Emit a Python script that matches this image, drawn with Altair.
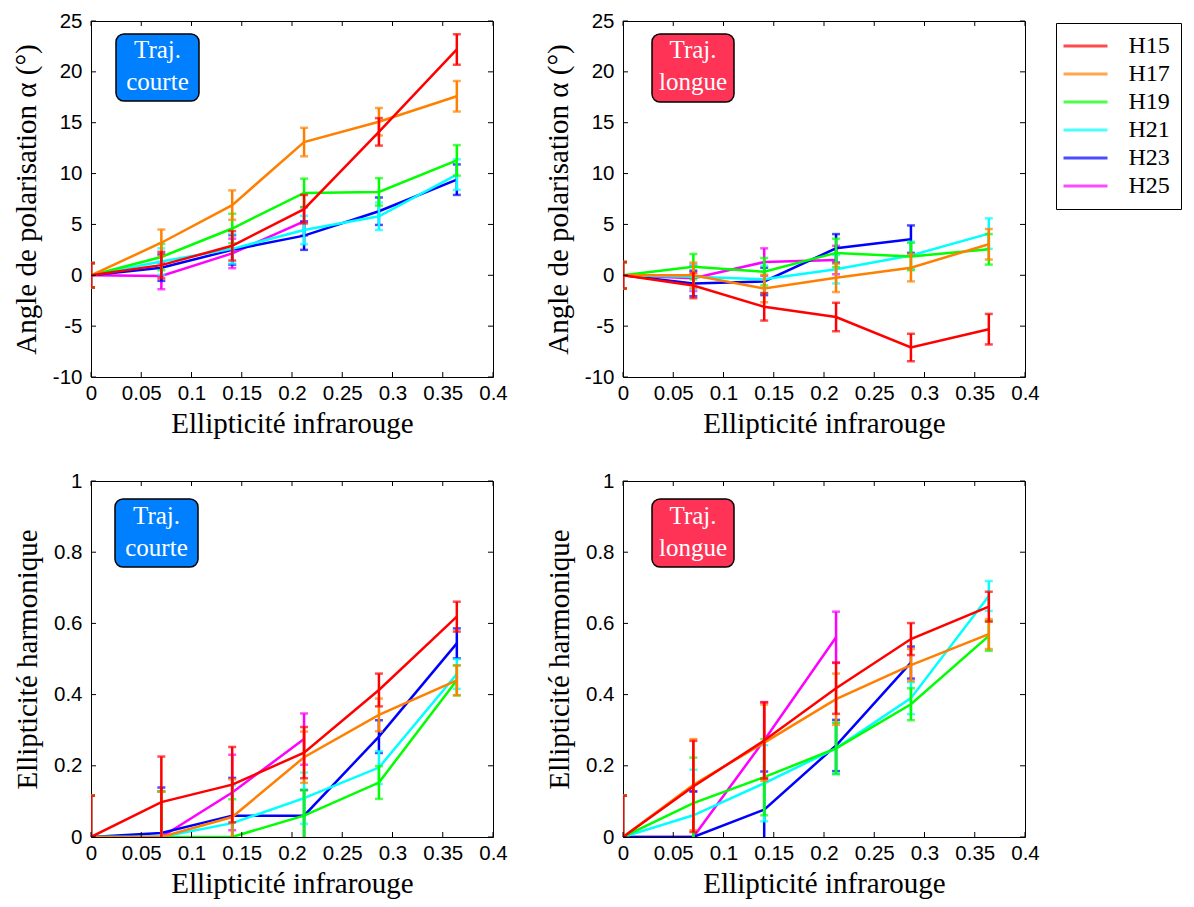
import altair as alt
import pandas as pd

# ---------------- data ----------------
series = ["H15", "H17", "H19", "H21", "H23", "H25"]
colors = ["#FF0000", "#FF8000", "#00FF00", "#00FFFF", "#0000FF", "#FF00FF"]
ellip_ir = [0, 0.07, 0.1405, 0.212, 0.2865, 0.364]

x_ticks = [0, 0.05, 0.1, 0.15, 0.2, 0.25, 0.3, 0.35, 0.4]
alpha_ticks = [-10, -5, 0, 5, 10, 15, 20, 25]
ellip_ticks = [0, 0.2, 0.4, 0.6, 0.8, 1]

# polarisation angle, short trajectory
alpha_courte = {
    "H15": [0, 1.0, 2.9, 6.5, 14.1, 22.2],
    "H17": [0, 3.2, 6.9, 13.1, 15.1, 17.6],
    "H19": [0, 1.8, 4.6, 8.1, 8.2, 11.3],
    "H21": [0, 1.35, 2.6, 4.45, 5.8, 9.9],
    "H23": [0, 0.75, 2.5, 3.9, 6.3, 9.4],
    "H25": [0, -0.07, 2.15, 5.3, None, None],
}
alpha_courte_err = [1.2, 1.3, 1.45, 1.4, 1.35, 1.5]

# polarisation angle, long trajectory
alpha_longue = {
    "H15": [0, -1.0, -3.1, -4.1, -7.1, -5.3],
    "H17": [0, 0.0, -1.3, -0.25, 0.75, 3.05],
    "H19": [0, 0.85, 0.35, 2.2, 1.85, 2.55],
    "H21": [0, -0.15, -0.4, 0.6, 1.95, 4.1],
    "H23": [0, -0.8, -0.6, 2.65, 3.55, None],
    "H25": [0, -0.3, 1.3, 1.5, None, None],
}
alpha_longue_err = [1.3, 1.25, 1.35, 1.4, 1.35, 1.5]

# harmonic ellipticity, short trajectory
ellh_courte = {
    "H15": [0, 0.098, 0.147, 0.237, 0.413, 0.619],
    "H17": [0, 0.0, 0.056, 0.224, 0.343, 0.44],
    "H19": [0, 0.0, 0.0, 0.06, 0.153, 0.44],
    "H21": [0, 0.0, 0.039, 0.109, 0.195, 0.458],
    "H23": [0, 0.011, 0.06, 0.06, 0.282, 0.544],
    "H25": [0, 0.0, 0.125, 0.275, None, None],
}
ellh_courte_err = [0.116, 0.128, 0.106, 0.072, 0.046, 0.042]

# harmonic ellipticity, long trajectory
ellh_longue = {
    "H15": [0, 0.142, 0.271, 0.418, 0.556, 0.647],
    "H17": [0, 0.147, 0.265, 0.387, 0.483, 0.57],
    "H19": [0, 0.095, 0.168, 0.249, 0.373, 0.565],
    "H21": [0, 0.061, 0.151, 0.249, 0.39, 0.677],
    "H23": [0, 0.0, 0.077, 0.257, 0.49, None],
    "H25": [0, 0.0, 0.272, 0.561, None, None],
}
ellh_longue_err = [0.116, 0.128, 0.107, 0.072, 0.045, 0.042]

SERIF = "Liberation Serif"
SANS = "Liberation Sans"
PW, PH = 402, 356
TICK = 5


def make_df(values, errs):
    rows = []
    for s in series:
        for i, v in enumerate(values[s]):
            if v is None:
                continue
            rows.append({"serie": s, "x": ellip_ir[i], "y": v,
                         "lo": v - errs[i], "hi": v + errs[i]})
    return pd.DataFrame(rows)


legend = alt.Legend(
    title=None, orient="none", legendX=965, legendY=2,
    strokeColor="black", fillColor="white", padding=11, cornerRadius=0,
    labelFont=SERIF, labelFontSize=24, labelColor="black", labelOffset=31,
    symbolType="M-3,0H3", symbolSize=215, symbolStrokeWidth=3,
    symbolOffset=6.5, rowPadding=4, symbolFillColor="transparent",
)


def panel(values, errs, ydom, yticks, ytitle, label, box_fill, bx, by, tx, ty):
    df = make_df(values, errs)
    xs = alt.Scale(domain=[0, 0.4], nice=False, zero=False)
    ys = alt.Scale(domain=ydom, nice=False, zero=False)
    color = alt.Color("serie:N", scale=alt.Scale(domain=series, range=colors),
                      legend=legend)
    lab = "'' + datum.value"
    main_x = alt.Axis(values=x_ticks, title="Ellipticité infrarouge", ticks=False,
                      domain=False, grid=False, labelExpr=lab, labelPadding=6,
                      titlePadding=6, labelFlush=False, labelOverlap=False)
    main_y = alt.Axis(values=yticks, title=ytitle, ticks=False, domain=False,
                      grid=False, labelExpr=lab, labelPadding=9, titlePadding=11,
                      labelFlush=False, labelOverlap=False)
    base = alt.Chart(df)
    layers = [
        base.mark_point(opacity=0).encode(
            x=alt.X("x:Q", scale=xs, axis=main_x),
            y=alt.Y("y:Q", scale=ys, axis=main_y))
    ]
    for s in reversed(series):
        b = base.transform_filter(alt.datum.serie == s)
        ex = alt.X("x:Q", scale=xs, axis=None)
        layers.append(b.mark_rule(strokeWidth=2.5, clip=True).encode(
            x=ex, y=alt.Y("lo:Q", scale=ys, axis=None), y2="hi:Q", color=color))
        layers.append(b.transform_fold(["lo", "hi"], as_=["k", "yy"]).mark_tick(
            orient="horizontal", size=8, thickness=2.5, clip=True).encode(
            x=ex, y=alt.Y("yy:Q", scale=ys, axis=None), color=color))
        layers.append(b.mark_line(strokeWidth=2.5, clip=True).encode(
            x=ex, y=alt.Y("y:Q", scale=ys, axis=None), color=color))
    # inward ticks on all four sides (MATLAB box style)
    xt = alt.Chart(pd.DataFrame({"t": x_ticks}))
    yt = alt.Chart(pd.DataFrame({"t": yticks}))
    tx_enc = alt.X("t:Q", scale=xs, axis=None)
    ty_enc = alt.Y("t:Q", scale=ys, axis=None)
    layers.append(xt.mark_rule(color="black", strokeWidth=1).encode(
        x=tx_enc, y=alt.value(PH - TICK), y2=alt.value(PH)))
    layers.append(xt.mark_rule(color="black", strokeWidth=1).encode(
        x=tx_enc, y=alt.value(0), y2=alt.value(TICK)))
    layers.append(yt.mark_rule(color="black", strokeWidth=1).encode(
        y=ty_enc, x=alt.value(0), x2=alt.value(TICK)))
    layers.append(yt.mark_rule(color="black", strokeWidth=1).encode(
        y=ty_enc, x=alt.value(PW - TICK), x2=alt.value(PW)))
    box_df = pd.DataFrame({"lab": ["Traj.\n" + label]})
    layers.append(alt.Chart(box_df).mark_rect(
        cornerRadius=8, fill=box_fill, stroke="black", strokeWidth=1.5).encode(
        x=alt.value(bx[0]), x2=alt.value(bx[1]), y=alt.value(by[0]), y2=alt.value(by[1])))
    layers.append(alt.Chart(box_df).mark_text(
        font=SERIF, fontSize=25, color="white", align="center", baseline="alphabetic",
        lineBreak="\n", lineHeight=32.6).encode(
        x=alt.value(tx), y=alt.value(ty), text="lab:N"))
    return alt.layer(*layers).properties(width=PW, height=PH).resolve_axis(
        x="independent", y="independent")


BLUE = "#0080FF"
RED = "#FF3355"
ytitle_a = "Angle de polarisation α (°)"
ytitle_e = "Ellipticité harmonique"

tl = panel(alpha_courte, alpha_courte_err, [-10, 25], alpha_ticks, ytitle_a,
           "courte", BLUE, (25, 108), (13, 80), 66.5, 36.7)
tr = panel(alpha_longue, alpha_longue_err, [-10, 25], alpha_ticks, ytitle_a,
           "longue", RED, (29, 111), (13, 81), 70, 36.7)
bl = panel(ellh_courte, ellh_courte_err, [0, 1], ellip_ticks, ytitle_e,
           "courte", BLUE, (24, 107), (18, 86), 65.5, 42.5)
br = panel(ellh_longue, ellh_longue_err, [0, 1], ellip_ticks, ytitle_e,
           "longue", RED, (29, 111), (18, 86), 70, 42.5)

chart = alt.concat(tl, tr, bl, br, columns=2, spacing={"row": 104, "column": 130},
                   bounds="flush").resolve_scale(color="shared").properties(
    padding={"left": 3, "top": 2, "right": 0, "bottom": 0}
).configure_view(stroke="black", strokeWidth=1).configure_axis(
    labelFont=SANS, labelFontSize=20.5, labelColor="black",
    titleFont=SERIF, titleFontSize=29, titleFontWeight="normal", titleColor="black")

chart.save("out.html", embed_options={"renderer": "svg", "actions": False})
